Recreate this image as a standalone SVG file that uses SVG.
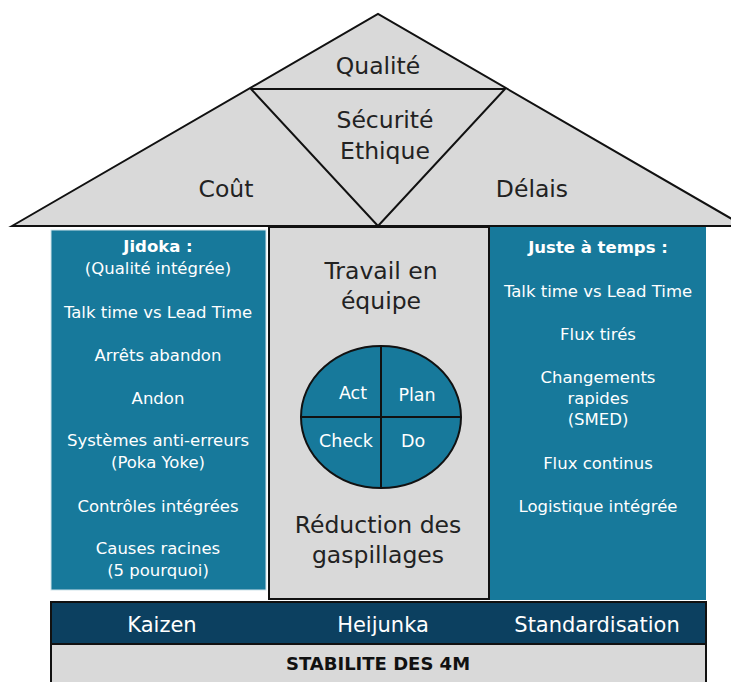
<svg xmlns="http://www.w3.org/2000/svg" width="731" height="682" viewBox="0 0 731 682">
<style>
.t{font-family:"DejaVu Sans","Liberation Sans",sans-serif;text-anchor:middle;fill:#222}
.w{font-family:"DejaVu Sans","Liberation Sans",sans-serif;text-anchor:middle;fill:#fff}
.s16{font-size:16.5px}
.s22{font-size:23.5px}
.b{font-weight:bold}
.ln{stroke:#111;stroke-width:2;fill:none}
</style>
<rect width="731" height="682" fill="#fff"/>
<g id="roof">
<polygon points="12,226 378,14 744,226" fill="#d9d9d9" stroke="#111" stroke-width="2"/>
<polygon points="251,89 505,89 378,226" fill="#d9d9d9" stroke="#111" stroke-width="2"/>
<text class="t s22" x="378" y="74">Qualité</text>
<text class="t s22" x="385" y="128">Sécurité</text>
<text class="t s22" x="385" y="159">Ethique</text>
<text class="t s22" x="226" y="197">Coût</text>
<text class="t s22" x="532" y="197">Délais</text>
</g>
<g id="jidoka">
<rect x="51" y="230" width="215" height="360" fill="#17799b" stroke="#cfe3ea" stroke-width="1"/>
<text class="w s16 b" x="158" y="252">Jidoka :</text>
<text class="w s16" x="158" y="274">(Qualité intégrée)</text>
<text class="w s16" x="158" y="318">Talk time vs Lead Time</text>
<text class="w s16" x="158" y="361">Arrêts abandon</text>
<text class="w s16" x="158" y="404">Andon</text>
<text class="w s16" x="158" y="446">Systèmes anti-erreurs</text>
<text class="w s16" x="158" y="468">(Poka Yoke)</text>
<text class="w s16" x="158" y="512">Contrôles intégrées</text>
<text class="w s16" x="158" y="554">Causes racines</text>
<text class="w s16" x="158" y="576">(5 pourquoi)</text>
</g>
<g id="center">
<rect x="269" y="227" width="220" height="372" fill="#d9d9d9" stroke="#111" stroke-width="2"/>
<text class="t s22" x="381" y="279">Travail en</text>
<text class="t s22" x="381" y="309">équipe</text>
<text class="t s22" x="378" y="533">Réduction des</text>
<text class="t s22" x="378" y="563">gaspillages</text>
</g>
<g id="pdca">
<ellipse cx="381" cy="417" rx="80" ry="71" fill="#17799b" stroke="#111" stroke-width="2"/>
<line class="ln" x1="381" y1="346" x2="381" y2="488"/>
<line class="ln" x1="301" y1="417" x2="461" y2="417"/>
<text class="w" style="font-size:17.5px" x="353" y="399">Act</text>
<text class="w" style="font-size:17.5px" x="417" y="401">Plan</text>
<text class="w" style="font-size:17.5px" x="346" y="447">Check</text>
<text class="w" style="font-size:17.5px" x="413" y="447">Do</text>
</g>
<g id="jit">
<rect x="490" y="227" width="216" height="373" fill="#17799b"/>
<text class="w s16 b" x="598" y="253">Juste à temps :</text>
<text class="w s16" x="598" y="297">Talk time vs Lead Time</text>
<text class="w s16" x="598" y="340">Flux tirés</text>
<text class="w s16" x="598" y="383">Changements</text>
<text class="w s16" x="598" y="404">rapides</text>
<text class="w s16" x="598" y="425">(SMED)</text>
<text class="w s16" x="598" y="469">Flux continus</text>
<text class="w s16" x="598" y="512">Logistique intégrée</text>
</g>
<g id="connectors">
<line class="ln" x1="489" y1="227" x2="489" y2="600"/>
</g>
<g id="base">
<rect x="51" y="602" width="655" height="42" fill="#0c4060" stroke="#111" stroke-width="2"/>
<text class="w" style="font-size:21px" x="162" y="632">Kaizen</text>
<text class="w" style="font-size:21px" x="383" y="632">Heijunka</text>
<text class="w" style="font-size:21px" x="597" y="632">Standardisation</text>
</g>
<g id="stabilite">
<rect x="51" y="644" width="655" height="40" fill="#d9d9d9" stroke="#111" stroke-width="2"/>
<text class="t b" style="font-size:18px;fill:#111" x="378" y="670">STABILITE DES 4M</text>
</g>
</svg>
